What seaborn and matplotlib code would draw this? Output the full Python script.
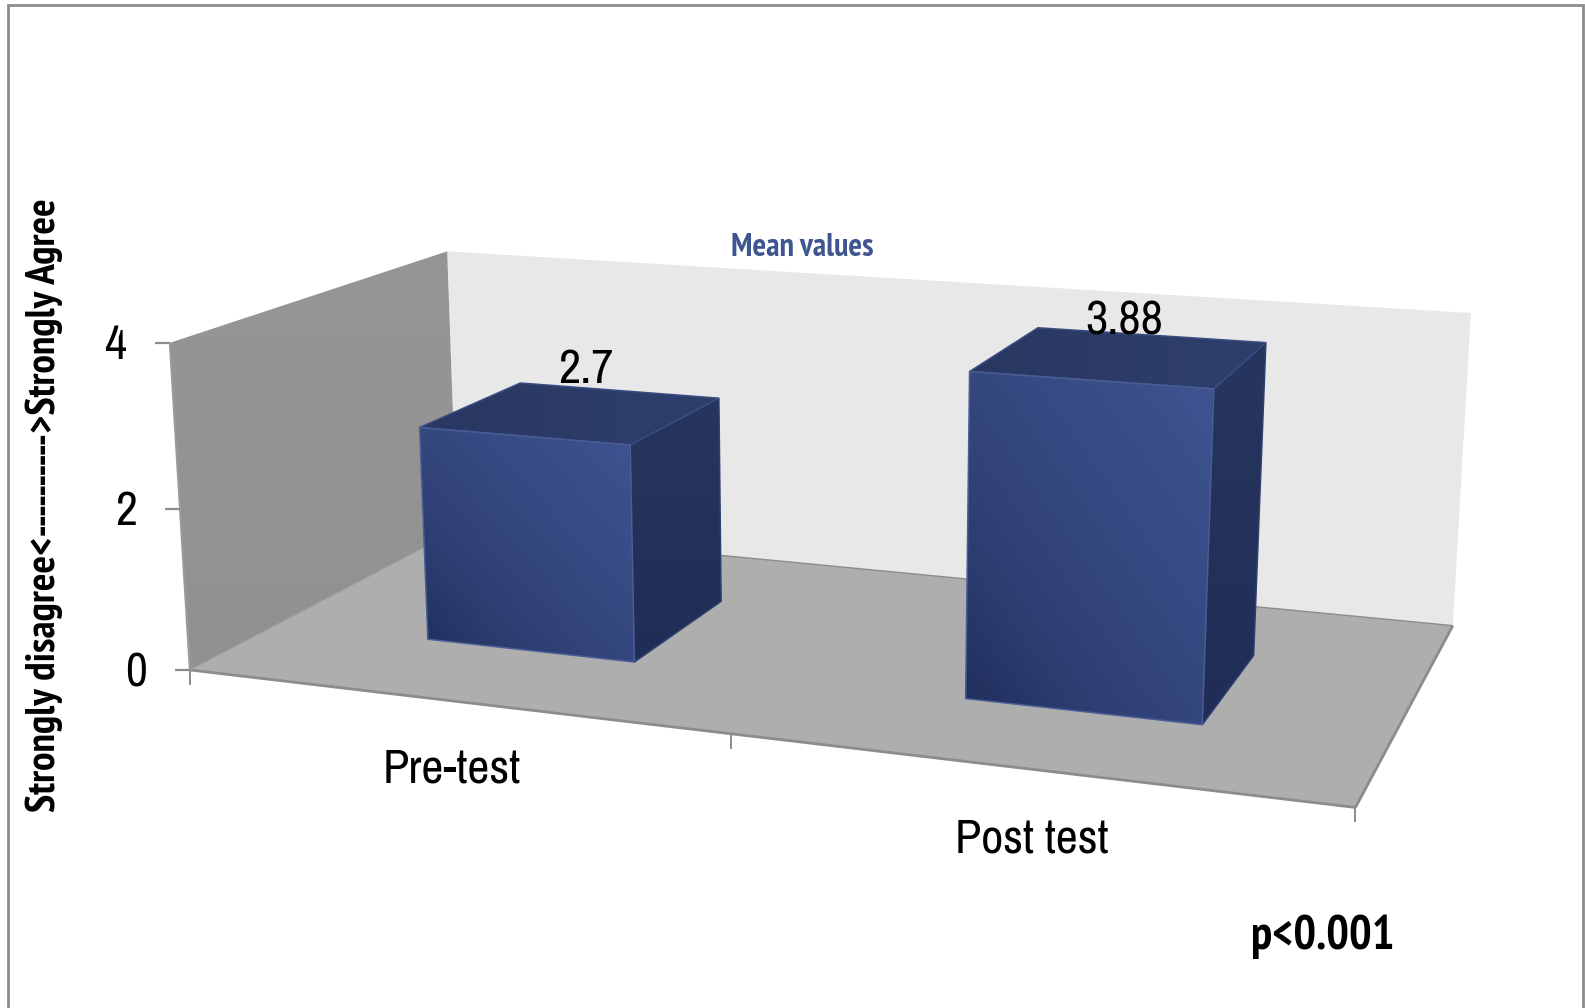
import numpy as np
import pandas as pd
import matplotlib
matplotlib.use("Agg")
import matplotlib.pyplot as plt
from matplotlib.patches import Polygon
from matplotlib.colors import LinearSegmentedColormap
import seaborn as sns

categories = ["Pre-test", "Post test"]
mean_scores = [2.7, 3.88]
y_ticks = [0, 2, 4]
y_label = "Strongly disagree<---------->Strongly Agree"
legend_label = "Mean values"
p_label = "p<0.001"

sns.set_theme(style="white")
plt.rcParams["font.family"] = ["Archivo Narrow", "Liberation Sans"]

W, H = 1585, 1008
GREY = "#8c8c8c"
fig = plt.figure(figsize=(W / 100, H / 100), dpi=100, facecolor="white")
ax = fig.add_axes([0, 0, 1, 1])

# Bar rectangles come from seaborn on a scratch axes, then go through the 3D view
scratch_fig, scratch_ax = plt.subplots()
sns.barplot(data=pd.DataFrame({"group": categories, "score": mean_scores}),
            x="group", y="score", width=0.4, ax=scratch_ax)
bars = [(r.get_x() + 0.5, r.get_x() + r.get_width() + 0.5, r.get_height())
        for r in scratch_ax.patches]
plt.close(scratch_fig)

# Perspective camera solved from the chart box: (category, depth, score) -> pixel
box = np.array([[0, 0, 0], [0, 0, 4], [0, 1, 4], [0, 1, 0], [2, 1, 4],
                [2, 1, 0], [2, 0, 0], [1, 0, 0]], float)
pix = np.array([[190, 669], [170, 342], [447, 252], [457, 530], [1471, 313],
                [1453, 625], [1355, 807], [731, 736]], float)
rows = []
for (X, Y, Z), (u, v) in zip(box, pix):
    rows.append([X, Y, Z, 1, 0, 0, 0, 0, -u * X, -u * Y, -u * Z, -u])
    rows.append([0, 0, 0, 0, X, Y, Z, 1, -v * X, -v * Y, -v * Z, -v])
camera = np.linalg.svd(np.array(rows))[2][-1].reshape(3, 4)


def view(x, y, z):
    p = camera @ np.array([x, y, z, 1.0])
    return p[:2] / p[2]


def face(points, zorder=2, **kw):
    ax.add_patch(Polygon([view(*p) for p in points], closed=True, lw=0, zorder=zorder, **kw))


def shaded_face(points, colors, direction, zorder=3, edge="#4a5d96"):
    """Fill a projected quad with a linear gradient along a screen direction."""
    xy = np.array([view(*p) for p in points])
    x0, y0 = xy.min(axis=0)
    x1, y1 = xy.max(axis=0)
    gx, gy = np.meshgrid(np.linspace(0, 1, 200), np.linspace(0, 1, 200))
    t = (gx * direction[0] + (1 - gy) * direction[1]) / (direction[0] + direction[1])
    cmap = LinearSegmentedColormap.from_list("face", sns.blend_palette(colors, 32))
    im = ax.imshow(t, extent=(x0, x1, y1, y0), origin="upper", cmap=cmap, vmin=0, vmax=1,
                   aspect="auto", zorder=zorder, interpolation="bilinear")
    clip = Polygon(xy, closed=True, fc="none", ec=edge, lw=1.1, zorder=zorder + 0.1)
    ax.add_patch(clip)
    im.set_clip_path(clip)


def edge(a, b, lw, color=GREY, zorder=2.5):
    pa, pb = view(*a), view(*b)
    ax.plot([pa[0], pb[0]], [pa[1], pb[1]], color=color, lw=lw, zorder=zorder,
            solid_capstyle="butt")


def bold_text(x, y, s, size, color="black", **kw):
    ax.text(x, y, s, fontsize=size, color=color, ha="center", va="center", zorder=6,
            family=["PT Sans Narrow", "Liberation Sans"], fontweight="bold", **kw)


top = max(y_ticks)
# Chart box: back wall, side wall, floor
face([(0, 1, 0), (2, 1, 0), (2, 1, top), (0, 1, top)], fc="#e8e8e8", zorder=1)
shaded_face([(0, 0, 0), (0, 1, 0), (0, 1, top), (0, 0, top)], ["#919191", "#969696"], (0, 1),
            zorder=1, edge="none")
face([(0, 0, 0), (2, 0, 0), (2, 1, 0), (0, 1, 0)], fc="#aeaeae", zorder=1.5)
edge((0, 0, 0), (2, 0, 0), 2.0)
edge((2, 0, 0), (2, 1, 0), 2.0)
edge((0, 1, 0), (2, 1, 0), 1.0)
edge((0, 0, 0), (0, 1, 0), 0.8, "#9c9c9c")
edge((0, 0, 0), (0, 0, top), 1.6, "#9a9a9a")

# Value axis ticks and labels
for tick in y_ticks:
    p = view(0, 0, tick)
    ax.plot([p[0] - 15, p[0]], [p[1], p[1]], color=GREY, lw=1.6, zorder=2.5,
            solid_capstyle="butt")
    ax.text(p[0] - 54, p[1] + 3, str(tick), fontsize=34.5, ha="center", va="center", color="black")

# Category axis ticks
for k in range(len(categories) + 1):
    p = view(k, 0, 0)
    ax.plot([p[0], p[0]], [p[1], p[1] + 15], color=GREY, lw=1.4, zorder=2.5,
            solid_capstyle="butt")

# Bars with their value labels
label_offsets = [(-33, -21), (-26, -14)]
for (x0, x1, value), name, off in zip(bars, categories, label_offsets):
    d0, d1 = 0.3, 0.7
    shaded_face([(x1, d0, 0), (x1, d1, 0), (x1, d1, value), (x1, d0, value)],
                ["#202e57", "#27365f"], (0, 1), edge="#2f3f6e")
    shaded_face([(x0, d0, value), (x1, d0, value), (x1, d1, value), (x0, d1, value)],
                ["#293861", "#2f3f6d"], (1, 0), edge="#3a4c82")
    shaded_face([(x0, d0, 0), (x1, d0, 0), (x1, d0, value), (x0, d0, value)],
                ["#1f2d5a", "#2c3d70", "#34477e", "#394d88", "#3f5491"], (1, 1))
    p = view((x0 + x1) / 2, d1, value)
    ax.text(p[0] + off[0], p[1] + off[1], f"{value:g}", fontsize=35, ha="center", va="center",
            color="black", zorder=6)

# Category labels
for (px, py), name in zip([(452, 769), (1032, 839)], categories):
    ax.text(px, py, name, fontsize=34.7, ha="center", va="center", color="black")

bold_text(802, 248, legend_label, 23.2, color="#3f5590")
bold_text(1323, 937, p_label, 34.3)
bold_text(44, 505, y_label, 29.7, rotation=90)

# Outer border (open at the bottom)
ax.plot([8, 8, 1583, 1583], [H, 5, 5, H], color=GREY, lw=2, zorder=7,
        solid_joinstyle="miter")

ax.set_xlim(0, W)
ax.set_ylim(H, 0)
ax.axis("off")
fig.savefig("out.png", dpi=100)
